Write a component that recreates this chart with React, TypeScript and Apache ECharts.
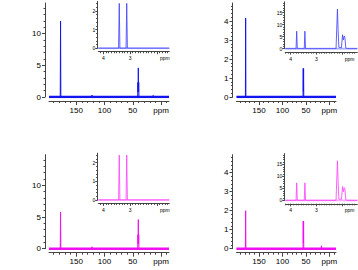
import React, { useEffect, useRef } from "react";
import * as echarts from "echarts";

// ---- axis extents / tick labels ----
const MAIN_X_MIN = -14;
const MAIN_X_MAX = 198;
const MAIN_X_LABELS = [150, 100, 50, 0]; // 0 is written "ppm"
const INSET_A_X_MIN = 1.53;
const INSET_A_X_MAX = 4.19;
const INSET_B_X_MIN = 1.4;
const INSET_B_X_MAX = 4.21;
const INSET_X_LABELS = [4, 3, 1.7]; // 1.7 is written "ppm"

const Y_TL_LABELS = [0, 5, 10];
const Y_TR_LABELS = [0, 1, 2, 3, 4];
const Y_INSET_A_LABELS = [0, 1, 2];
const Y_INSET_B_LABELS = [0, 5, 10, 15];

// ---- spectra: [ppm, intensity] ----
const TL_MAIN = [
  [198, 0], [178.1, 0], [177.6, 12.0], [177.1, 0],
  [122.5, 0], [122.0, 0.3], [121.5, 0],
  [41.3, 0], [40.9, 2.3], [40.6, 0.8], [40.2, 4.6], [39.8, 0.8], [39.5, 2.3], [39.1, 0],
  [14.5, 0], [14.0, 0.25], [13.5, 0], [-14, 0],
];
const BL_MAIN = [
  [198, 0], [178.1, 0], [177.6, 5.8], [177.1, 0],
  [122.5, 0], [122.0, 0.3], [121.5, 0],
  [41.3, 0], [40.9, 2.2], [40.6, 0.8], [40.2, 4.6], [39.8, 0.8], [39.5, 2.2], [39.1, 0],
  [-14, 0],
];
const TR_MAIN = [
  [198, 0], [179.0, 0], [178.5, 4.15], [178.0, 0],
  [56.2, 0], [55.8, 1.5], [55.4, 0.3], [55.0, 1.5], [54.6, 0],
  [-14, 0],
];
const BR_MAIN = [
  [198, 0], [179.0, 0], [178.5, 2.0], [178.0, 0],
  [56.2, 0], [55.8, 1.45], [55.4, 0.3], [55.0, 1.45], [54.6, 0],
  [17.5, 0], [17.0, 0.15], [16.5, 0],
  [-14, 0],
];
const INSET_A = [
  [4.19, 0], [3.43, 0], [3.405, 2.4], [3.38, 0],
  [3.15, 0], [3.125, 2.4], [3.1, 0], [1.53, 0],
];
const INSET_B = [
  [4.21, 0], [3.79, 0], [3.765, 7.3], [3.74, 0],
  [3.47, 0], [3.445, 7.3], [3.42, 0],
  [2.23, 0], [2.2, 9.0], [2.175, 16.5], [2.15, 8.0], [2.12, 0.6],
  [2.02, 0.4], [1.975, 5.8], [1.945, 3.6], [1.91, 5.3], [1.885, 4.8], [1.85, 0.4], [1.8, 0],
  [1.4, 0],
];

const BLUE = "#1414ee";
const BLUE_LIGHT = "#4646ff";
const BLUE_BASE = "#a8aeff";
const MAG = "#f010f0";
const MAG_LIGHT = "#ff48ff";
const MAG_BASE = "#ffa8ff";
const AXIS = "#444";

function range(from: number, to: number, step: number) {
  const out: number[] = [];
  const n = Math.round((to - from) / step);
  for (let i = 0; i <= n; i++) out.push(Math.round((from + i * step) * 1000) / 1000);
  return out;
}

type Layout = { left: number; top: number; width: number; height: number };

export default function App() {
  const ref = useRef<HTMLDivElement>(null);
  useEffect(() => {
    if (!ref.current) return;
    const chart = echarts.init(ref.current, undefined, { renderer: "svg" });

    const grids: any[] = [];
    const xAxes: any[] = [];
    const yAxes: any[] = [];
    const series: any[] = [];

    const addPanel = (
      g: Layout,
      xmin: number,
      xmax: number,
      xLabels: number[],
      xMajor: number[],
      xMinor: number[],
      ymax: number,
      yLabels: number[],
      yMinor: number[],
      data: number[][],
      lineColor: string,
      baseColor: string,
      inset: boolean
    ) => {
      const gi = grids.length;
      grids.push({ ...g, containLabel: false });
      const fs = inset ? 5 : 8;
      const ppmVal = xLabels[xLabels.length - 1];
      const xo = inset ? 3.4 : 4;
      const yo = inset ? 1 : 4;
      const majorLen = inset ? 2.5 : 4;
      const minorLen = inset ? 1.5 : 2;
      const xi = xAxes.length;
      xAxes.push({
        type: "value", gridIndex: gi, min: xmin, max: xmax, inverse: true,
        position: "bottom", offset: xo,
        axisLine: { show: true, onZero: false, lineStyle: { color: AXIS, width: 1 } },
        axisTick: { show: true, customValues: xMajor, length: majorLen, lineStyle: { color: AXIS } },
        axisLabel: {
          show: true, customValues: xLabels, fontSize: fs, color: "#000",
          fontFamily: "Liberation Sans", margin: inset ? 4 : 5,
          formatter: (v: number) => (Math.abs(v - ppmVal) < 1e-6 ? "ppm" : String(v)),
        },
        splitLine: { show: false },
      });
      xAxes.push({
        type: "value", gridIndex: gi, min: xmin, max: xmax, inverse: true,
        position: "bottom", offset: xo,
        axisLine: { show: false, onZero: false },
        axisTick: { show: true, customValues: xMinor, length: minorLen, lineStyle: { color: AXIS } },
        axisLabel: { show: false },
        splitLine: { show: false },
      });
      const yi = yAxes.length;
      yAxes.push({
        type: "value", gridIndex: gi, min: 0, max: ymax, position: "left", offset: yo,
        axisLine: { show: true, onZero: false, lineStyle: { color: AXIS, width: 1 } },
        axisTick: { show: true, customValues: yLabels, length: inset ? 2 : 3, lineStyle: { color: AXIS } },
        axisLabel: {
          show: true, customValues: yLabels, fontSize: fs, color: "#000",
          fontFamily: "Liberation Sans", margin: inset ? 2 : 4,
        },
        splitLine: { show: false },
      });
      yAxes.push({
        type: "value", gridIndex: gi, min: 0, max: ymax, position: "left", offset: yo,
        axisLine: { show: false, onZero: false },
        axisTick: { show: true, customValues: yMinor, length: inset ? 1.2 : 1.5, lineStyle: { color: AXIS } },
        axisLabel: { show: false },
        splitLine: { show: false },
      });
      series.push({
        type: "line", xAxisIndex: xi, yAxisIndex: yi, showSymbol: false, silent: true,
        data: [[xmax, 0], [xmin, 0]],
        lineStyle: { color: baseColor, width: inset ? 2 : 2.5 },
        z: 1,
      });
      series.push({
        type: "line", xAxisIndex: xi, yAxisIndex: yi, showSymbol: false, silent: true,
        data,
        lineStyle: { color: lineColor, width: 1, opacity: inset ? 0.85 : 1 },
        z: 2,
      });
    };

    const mainXMajor = MAIN_X_LABELS;
    const mainXMinor = range(-10, 190, 10);
    const insetXMajorA = [4, 3, 2];
    const insetXMinorA = range(1.6, 4.1, 0.1);
    const insetXMinorB = range(1.5, 4.2, 0.1);

    const rowOff = 151.7;
    const top = [0, rowOff];
    const panels = [
      { col: 0, row: 0, main: TL_MAIN, ymax: 14.85, yl: Y_TL_LABELS, ym: range(0, 14, 1), inset: INSET_A, c: [BLUE, BLUE_LIGHT, BLUE_BASE], ia: true },
      { col: 1, row: 0, main: TR_MAIN, ymax: 4.95, yl: Y_TR_LABELS, ym: range(0, 4.8, 0.2), inset: INSET_B, c: [BLUE, BLUE_LIGHT, BLUE_BASE], ia: false },
      { col: 0, row: 1, main: BL_MAIN, ymax: 14.85, yl: Y_TL_LABELS, ym: range(0, 14, 1), inset: INSET_A, c: [MAG, MAG_LIGHT, MAG_BASE], ia: true },
      { col: 1, row: 1, main: BR_MAIN, ymax: 4.95, yl: Y_TR_LABELS, ym: range(0, 4.8, 0.2), inset: INSET_B, c: [MAG, MAG_LIGHT, MAG_BASE], ia: false },
    ];

    panels.forEach((p) => {
      const t = top[p.row];
      const mainLeft = p.col === 0 ? 49 : 236.5;
      addPanel(
        { left: mainLeft, top: t + 3, width: 120, height: 94 },
        MAIN_X_MIN, MAIN_X_MAX, MAIN_X_LABELS, mainXMajor, mainXMinor,
        p.ymax, p.yl, p.ym, p.main, p.c[0], p.c[0], false
      );
    });
    panels.forEach((p) => {
      const t = top[p.row];
      if (p.ia) {
        addPanel(
          { left: 98.3, top: t + 1.5, width: 71, height: 46.8 },
          INSET_A_X_MIN, INSET_A_X_MAX, INSET_X_LABELS, insetXMajorA, insetXMinorA,
          2.5, Y_INSET_A_LABELS, range(0, 2.4, 0.2), p.inset, p.c[1], p.c[2], true
        );
      } else {
        addPanel(
          { left: 285.3, top: t + 1.9, width: 72, height: 46.8 },
          INSET_B_X_MIN, INSET_B_X_MAX, INSET_X_LABELS, insetXMajorA, insetXMinorB,
          19.5, Y_INSET_B_LABELS, range(0, 19, 1), p.inset, p.c[1], p.c[2], true
        );
      }
    });

    chart.setOption({
      animation: false,
      backgroundColor: "#ffffff",
      grid: grids,
      xAxis: xAxes,
      yAxis: yAxes,
      series,
    });
    return () => chart.dispose();
  }, []);

  return (
    <div
      ref={ref}
      style={{ position: "fixed", left: 0, top: 0, width: 358, height: 270 }}
    />
  );
}
